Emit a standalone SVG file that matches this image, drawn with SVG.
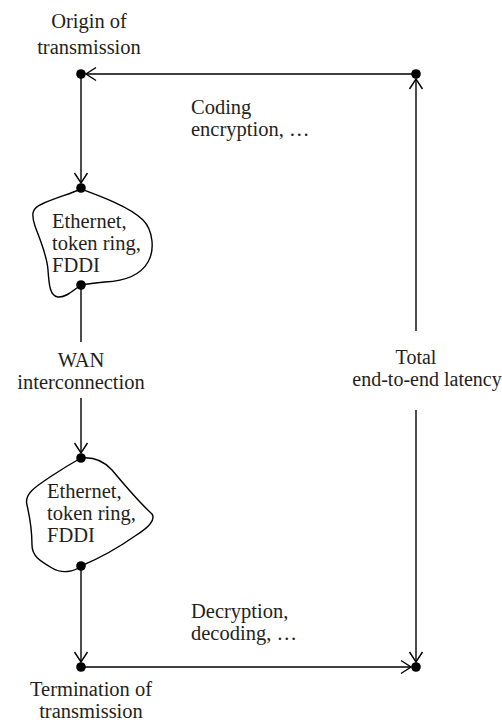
<svg xmlns="http://www.w3.org/2000/svg" width="502" height="722" viewBox="0 0 502 722">
  <style>
    .lbl { font-family: "Liberation Serif", "Times New Roman", serif; font-size: 20.5px; fill: #231f20; }
    .small { font-size: 20px; }
    .mid { text-anchor: middle; }
    .line { stroke: #000; stroke-width: 1.4; fill: none; }
    .blob { stroke: #000; stroke-width: 1.4; fill: #fff; }
    .dot { fill: #000; }
  </style>
  <defs>
    <marker id="arrow" viewBox="-12 -8 14 16" refX="0" refY="0" markerWidth="14" markerHeight="16" markerUnits="userSpaceOnUse" orient="auto">
      <path d="M-10,-6.5 L0,0 L-10,6.5" fill="none" stroke="#000" stroke-width="1.4"/>
    </marker>
  </defs>

  <!-- network clouds -->
  <g id="lan-origin">
    <path class="blob" d="M81,189 C100,196 130,207 143,220 C153,230 155,250 148,262 C140,276 125,281 105,282 C95,283 87,284 81,285 C75,289 66,298 58,297 C50,296 49,285 48,270 C47,255 40,240 35,226 C31,214 32,208 42,204 C55,198 70,194 81,189 Z"/>
    <text class="lbl" x="52" y="228">Ethernet,</text>
    <text class="lbl" x="52" y="250">token ring,</text>
    <text class="lbl" x="52" y="272">FDDI</text>
  </g>
  <g id="lan-termination">
    <path class="blob" d="M81,458 C92,457 103,460 112,470 C122,482 140,503 152,514 C156,520 148,528 135,536 C118,548 100,558 81,566 C74,572 62,574 52,568 C40,561 32,556 32,545 C32,530 30,518 27,505 C24,494 35,487 50,477 C62,469 72,463 81,458 Z"/>
    <text class="lbl" x="47" y="498">Ethernet,</text>
    <text class="lbl" x="47" y="520">token ring,</text>
    <text class="lbl" x="47" y="542">FDDI</text>
  </g>

  <!-- connectors -->
  <g id="connectors">
    <line class="line" x1="412" y1="74" x2="86" y2="74" marker-end="url(#arrow)"/>
    <line class="line" x1="81" y1="74" x2="81" y2="183" marker-end="url(#arrow)"/>
    <line class="line" x1="81" y1="285" x2="81" y2="342"/>
    <line class="line" x1="81" y1="398" x2="81" y2="453" marker-end="url(#arrow)"/>
    <line class="line" x1="81" y1="566" x2="81" y2="662" marker-end="url(#arrow)"/>
    <line class="line" x1="81" y1="667" x2="411" y2="667" marker-end="url(#arrow)"/>
    <line class="line" x1="416" y1="331" x2="416" y2="79" marker-end="url(#arrow)"/>
    <line class="line" x1="416" y1="410" x2="416" y2="662" marker-end="url(#arrow)"/>
  </g>

  <!-- junction points -->
  <g id="points">
    <circle class="dot" cx="81" cy="74" r="4.8"/>
    <circle class="dot" cx="416" cy="74" r="4.8"/>
    <circle class="dot" cx="81" cy="188" r="4.8"/>
    <circle class="dot" cx="81" cy="285" r="4.8"/>
    <circle class="dot" cx="81" cy="458" r="4.8"/>
    <circle class="dot" cx="81" cy="566" r="4.8"/>
    <circle class="dot" cx="81" cy="667" r="4.8"/>
    <circle class="dot" cx="416" cy="667" r="4.8"/>
  </g>

  <!-- labels -->
  <g id="origin">
    <text class="lbl mid" x="89" y="28">Origin of</text>
    <text class="lbl mid" x="89" y="54">transmission</text>
  </g>
  <g id="coding">
    <text class="lbl" x="191" y="114">Coding</text>
    <text class="lbl" x="191" y="136">encryption, …</text>
  </g>
  <g id="wan">
    <text class="lbl mid" x="81" y="367">WAN</text>
    <text class="lbl mid" x="81" y="389">interconnection</text>
  </g>
  <g id="latency">
    <text class="lbl small mid" x="416" y="364">Total</text>
    <text class="lbl small mid" x="427" y="386">end-to-end latency</text>
  </g>
  <g id="decoding">
    <text class="lbl" x="191" y="618">Decryption,</text>
    <text class="lbl" x="191" y="640">decoding, …</text>
  </g>
  <g id="termination">
    <text class="lbl mid" x="91" y="696">Termination of</text>
    <text class="lbl mid" x="91" y="718">transmission</text>
  </g>
</svg>
